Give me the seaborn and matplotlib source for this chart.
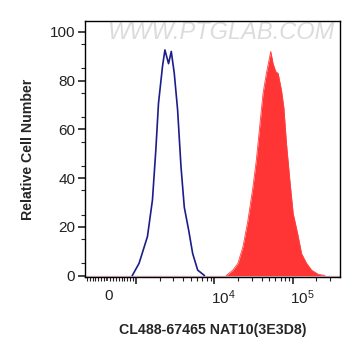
import numpy as np
import pandas as pd
import matplotlib
matplotlib.use("Agg")
import matplotlib.pyplot as plt
import matplotlib.transforms as mtransforms
from matplotlib.ticker import FixedLocator
import seaborn as sns

# ---------------------------------------------------------------------------
# Data (fluorescence intensity vs. relative cell number)
# ---------------------------------------------------------------------------
control_intensity = [870, 1092, 1397, 1618, 1786, 1932, 2176, 2333, 2596, 2812,
                     3071, 3388, 3741, 4123, 4688, 5273, 6113, 7450]
control_count = [0, 5, 16, 31, 51.5, 70.7, 86, 92.6, 87, 92,
                 83, 68, 44.7, 28, 18.6, 9, 2.2, 0]

stained_intensity = [14120, 17170, 19910, 23080, 26750, 30990, 34200, 37730,
                     41660, 45930, 49680, 52210, 55960, 60570, 64900, 71610,
                     76740, 82990, 91600, 100900, 114900, 129200, 149700,
                     173600, 211200, 257000]
stained_count = [0, 2.2, 5, 11.8, 22.7, 36.4, 47.4, 61, 74.8, 83, 88.5, 92,
                 87, 83.7, 83, 76, 69, 54, 39, 25.5, 17.3, 9, 5, 2.2, 0.5, 0]

x_tick_values = [0, 1e3, 1e4, 1e5]
x_tick_labels = ["0", "", "10$^4$", "10$^5$"]
y_tick_values = [0, 20, 40, 60, 80, 100]

control_df = pd.DataFrame({"intensity": control_intensity, "count": control_count})
stained_df = pd.DataFrame({"intensity": stained_intensity, "count": stained_count})

# ---------------------------------------------------------------------------
# Plot
# ---------------------------------------------------------------------------
sns.set_style("white")
plt.rcParams["font.family"] = ["Liberation Sans", "DejaVu Sans"]
plt.rcParams["mathtext.fontset"] = "custom"
plt.rcParams["mathtext.rm"] = "Liberation Sans"
plt.rcParams["mathtext.it"] = "Liberation Sans"

fig = plt.figure(figsize=(3.61, 3.56), dpi=100)
ax = fig.add_axes([0.2355, 0.222, 0.7065, 0.719])

ax.set_xscale("symlog", linthresh=1000, linscale=0.333)

# pale baseline along zero
ax.axhline(0, color="#e6b8c8", linewidth=1.0, zorder=1)

ax.fill_between(stained_df["intensity"], stained_df["count"], 0,
                color="#ff3535", linewidth=0, zorder=2)
ax.plot(stained_df["intensity"], stained_df["count"], color="#ff4040",
        linewidth=0.6, zorder=2)
sns.lineplot(data=control_df, x="intensity", y="count", ax=ax,
             color="#1c1c8a", linewidth=1.2, sort=False, zorder=3)

ax.set_xlim(-760, 4e5)
ax.set_ylim(-0.6, 104.5)

# x ticks
ax.set_xticks(x_tick_values)
ax.set_xticklabels(x_tick_labels)
minor_x = ([-700, -600, -500, -400, -300, -200, -100, 100, 200, 300, 400, 500,
            600, 700, 800, 900]
           + [m * 10 ** e for e in (3, 4, 5) for m in range(2, 10)])
ax.xaxis.set_minor_locator(FixedLocator([v for v in minor_x if v < 4e5]))
ax.tick_params(axis="x", which="major", direction="out", length=5, width=1.2,
               pad=3.5, labelsize=11, colors="#222222", bottom=True)
ax.tick_params(axis="x", which="minor", direction="out", length=3, width=0.8,
               bottom=True, colors="#222222")
ax.xaxis.get_major_ticks()[0].tick1line.set_markersize(3)
offset = mtransforms.ScaledTranslation(-3 / 100, 0, fig.dpi_scale_trans)
for lbl in ax.get_xticklabels():
    lbl.set_horizontalalignment("left")
    lbl.set_transform(lbl.get_transform() + offset)

# y ticks
ax.set_yticks(y_tick_values)
ax.yaxis.set_minor_locator(FixedLocator(np.arange(5, 105, 10)))
ax.tick_params(axis="y", which="major", direction="out", length=5, width=1.2,
               pad=2, labelsize=11, colors="#222222", left=True)
ax.tick_params(axis="y", which="minor", direction="out", length=3, width=0.8,
               left=True, colors="#222222")

for sp in ax.spines.values():
    sp.set_color("black")
    sp.set_linewidth(1.0)

ax.set_xlabel("CL488-67465 NAT10(3E3D8)", fontsize=10.2, fontweight="bold",
              labelpad=11)
ax.set_ylabel("Relative Cell Number", fontsize=10.2, fontweight="bold",
              labelpad=11)
ax.grid(False)

# watermark
ax.text(0.535, 0.955, "WWW.PTGLAB.COM", transform=ax.transAxes, ha="center",
        va="center", fontsize=17, color="#dcdcdc", style="italic", zorder=1)

fig.savefig("out.png", dpi=100)
